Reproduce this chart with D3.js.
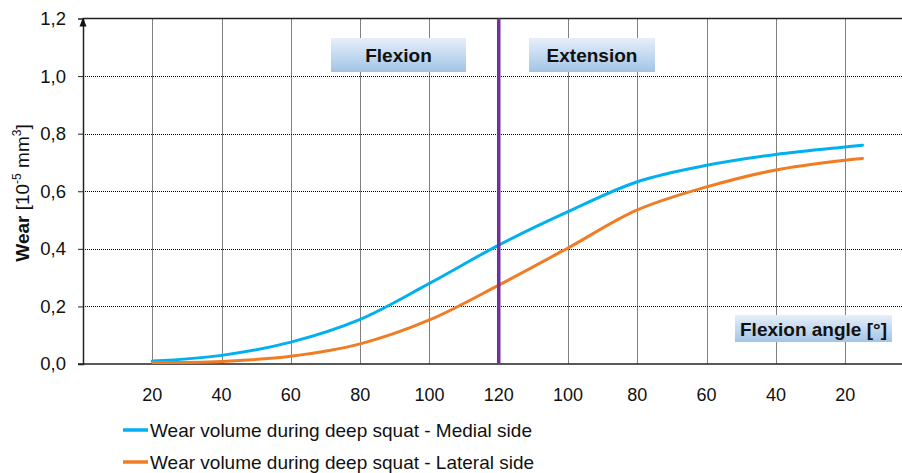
<!DOCTYPE html>
<html lang="en">
<head>
  <meta charset="UTF-8">
  <title>Wear volume during deep squat</title>
  <style>
    body { margin: 0; background: #fff; }
    svg { display: block; font-family: "Liberation Sans", Arial, sans-serif; }
  </style>
</head>
<body>
  <script src="https://d3js.org/d3.v7.min.js"></script>
  <script>
    // position along the squat cycle (0 = start at 20°, 5 = 120°, 10 = back at 20°)
    const cycleStep = [0, 1, 2, 3, 4, 5, 6, 7, 8, 9, 10, 10.25];
    const angleLabels = ['20', '40', '60', '80', '100', '120', '100', '80', '60', '40', '20'];
    const medial = [0.010, 0.030, 0.076, 0.155, 0.280, 0.413, 0.529, 0.633, 0.690, 0.728, 0.754, 0.760];
    const lateral = [0.005, 0.009, 0.027, 0.070, 0.153, 0.274, 0.403, 0.535, 0.615, 0.674, 0.708, 0.714];
    const yTicks = [0, 0.2, 0.4, 0.6, 0.8, 1.0, 1.2];
    const seriesNames = ['Wear volume during deep squat - Medial side', 'Wear volume during deep squat - Lateral side'];
    const seriesColors = ['#00b0f0', '#f07c24'];

    const width = 902, height = 473;
    const margin = { top: 18.5, right: 0, bottom: 109, left: 83 };

    const svg = d3.select('body').append('svg')
      .attr('width', width)
      .attr('height', height);

    const defs = svg.append('defs');
    const grad = defs.append('linearGradient')
      .attr('id', 'boxGrad')
      .attr('x1', 0).attr('y1', 0).attr('x2', 0).attr('y2', 1);
    grad.append('stop').attr('offset', '0%').attr('stop-color', '#e6eff9');
    grad.append('stop').attr('offset', '100%').attr('stop-color', '#a3c4e6');

    const x = d3.scaleLinear()
      .domain([-1, 10.82])
      .range([margin.left, width - margin.right]);
    const y = d3.scaleLinear()
      .domain([0, 1.2])
      .range([height - margin.bottom, margin.top]);
    const crisp = v => Math.round(v) + 0.5;

    const steps = d3.range(angleLabels.length);

    // grid
    const grid = svg.append('g');
    grid.selectAll('line.v')
      .data(steps)
      .join('line')
      .attr('class', 'v')
      .attr('x1', d => crisp(x(d))).attr('x2', d => crisp(x(d)))
      .attr('y1', y(1.2)).attr('y2', y(0))
      .attr('stroke', '#000')
      .attr('stroke-width', 1)
      .attr('stroke-dasharray', '1,1');
    grid.selectAll('line.h')
      .data(yTicks.filter(d => d > 0 && d < 1.2))
      .join('line')
      .attr('class', 'h')
      .attr('x1', x(-1)).attr('x2', width)
      .attr('y1', d => crisp(y(d))).attr('y2', d => crisp(y(d)))
      .attr('stroke', '#000')
      .attr('stroke-width', 1)
      .attr('stroke-dasharray', '1,1');

    // top border
    svg.append('line')
      .attr('x1', x(-1)).attr('x2', width)
      .attr('y1', y(1.2)).attr('y2', y(1.2))
      .attr('stroke', '#222').attr('stroke-width', 1.5);

    // y axis
    const yAxis = d3.axisLeft(y)
      .tickValues(yTicks)
      .tickSize(5)
      .tickPadding(12)
      .tickFormat(d => d3.format('.1f')(d).replace('.', ','));
    const yg = svg.append('g')
      .attr('transform', `translate(${x(-1)},0)`)
      .call(yAxis);
    yg.select('.domain').attr('stroke', '#222').attr('stroke-width', 1.5);
    yg.selectAll('.tick line').attr('stroke', '#222');
    yg.selectAll('.tick text')
      .attr('font-size', 18.5)
      .attr('fill', '#111')
      .attr('font-family', '"Liberation Sans", Arial, sans-serif');
    yg.selectAll('.tick').filter(d => d === 1.2).select('line').remove();

    // arrow head at top of y axis
    svg.append('path')
      .attr('d', d3.line()([[x(-1) - 3.5, y(1.2) + 8], [x(-1), y(1.2) - 1], [x(-1) + 3.5, y(1.2) + 8]]) + 'Z')
      .attr('fill', '#111');

    // x axis
    svg.append('line')
      .attr('x1', x(-1) - 5).attr('x2', width)
      .attr('y1', y(0)).attr('y2', y(0))
      .attr('stroke', '#222').attr('stroke-width', 1.5);
    svg.append('g')
      .selectAll('text')
      .data(steps)
      .join('text')
      .attr('x', d => x(d))
      .attr('y', y(0) + 37)
      .attr('text-anchor', 'middle')
      .attr('font-size', 18)
      .attr('fill', '#111')
      .text(d => angleLabels[d]);

    // y label
    const yl = svg.append('text')
      .attr('transform', `translate(29,193) rotate(-90)`)
      .attr('text-anchor', 'middle')
      .attr('font-size', 19)
      .attr('fill', '#111');
    yl.append('tspan').attr('font-weight', 'bold').text('Wear');
    yl.append('tspan').text(' [10');
    yl.append('tspan').attr('font-size', 12).attr('dy', -8).text('-5');
    yl.append('tspan').attr('dy', 8).text(' mm');
    yl.append('tspan').attr('font-size', 12).attr('dy', -8).text('3');
    yl.append('tspan').attr('dy', 8).text(']');

    // phase boxes
    const boxes = [
      { label: 'Flexion', x0: 331, x1: 466, y0: 38, y1: 72 },
      { label: 'Extension', x0: 529, x1: 655, y0: 38, y1: 72 },
      { label: 'Flexion angle [°]', x0: 735, x1: 892, y0: 315, y1: 342 }
    ];
    const bg = svg.append('g').selectAll('g').data(boxes).join('g');
    bg.append('rect')
      .attr('x', d => d.x0).attr('y', d => d.y0)
      .attr('width', d => d.x1 - d.x0).attr('height', d => d.y1 - d.y0)
      .attr('fill', 'url(#boxGrad)');
    bg.append('text')
      .attr('x', d => (d.x0 + d.x1) / 2)
      .attr('y', d => (d.y0 + d.y1) / 2 + 7)
      .attr('text-anchor', 'middle')
      .attr('font-size', 19)
      .attr('font-weight', 'bold')
      .attr('fill', '#111')
      .text(d => d.label);

    // curves
    const series = [medial, lateral];
    const line = d3.line()
      .x((d, i) => x(cycleStep[i]))
      .y(d => y(d))
      .curve(d3.curveCatmullRom.alpha(0.5));
    svg.append('g')
      .selectAll('path')
      .data(series)
      .join('path')
      .attr('d', d => line(d))
      .attr('fill', 'none')
      .attr('stroke', (d, i) => seriesColors[i])
      .attr('stroke-width', 3)
      .attr('stroke-linecap', 'round');

    // turning point at 120°
    svg.append('line')
      .attr('x1', x(5)).attr('x2', x(5))
      .attr('y1', y(1.2)).attr('y2', y(0))
      .attr('stroke', '#7030a0')
      .attr('stroke-width', 3.5);

    // legend
    const lg = svg.append('g').selectAll('g')
      .data(seriesNames)
      .join('g')
      .attr('transform', (d, i) => `translate(123,${430 + i * 32})`);
    lg.append('line')
      .attr('x1', 0).attr('x2', 25)
      .attr('stroke', (d, i) => seriesColors[i])
      .attr('stroke-width', 3.5);
    lg.append('text')
      .attr('x', 27)
      .attr('y', 7)
      .attr('font-size', 19)
      .attr('fill', '#111')
      .text(d => d);
  </script>
</body>
</html>
